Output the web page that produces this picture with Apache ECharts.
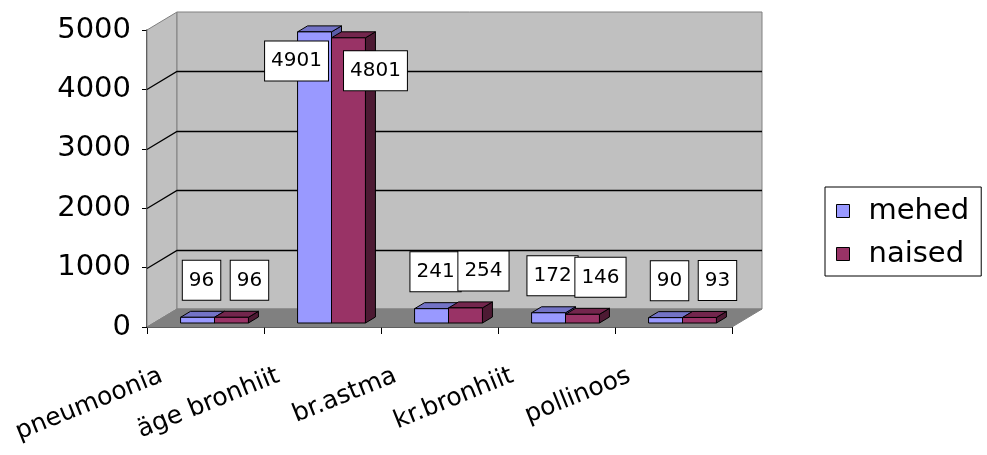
<!DOCTYPE html>
<html>
<head>
<meta charset="utf-8">
<script src="https://cdn.jsdelivr.net/npm/echarts@6/dist/echarts.min.js"></script>
<style>
html,body{margin:0;padding:0;background:#fff;}
#chart{width:987px;height:455px;}
</style>
</head>
<body>
<div id="chart"></div>
<script>
const categories = ['pneumoonia', 'äge bronhiit', 'br.astma', 'kr.bronhiit', 'pollinoos'];
const seriesNames = ['mehed', 'naised'];
const mehed = [96, 4901, 241, 172, 90];
const naised = [96, 4801, 254, 146, 93];
const yMin = 0, yMax = 5000, yStep = 1000;

const FONT = 'DejaVu Sans';
const DEPTH = [30, -18];      // wall depth
const BAR_OFF = [9, -4];      // bar front plane offset
const BAR_D = [10, -6];       // bar depth
const BAR_W = 0.29;           // bar width as fraction of category
const CAT_ROT = 22 * Math.PI / 180;
const CAT_OFF = [-44, 48];    // category label anchor offset from tick position

const palette = [
  {front: '#9999ff', top: '#7373c6', side: '#5c5ca8'},
  {front: '#993366', top: '#73264d', side: '#4d1a33'}
];

function wallRender(params, api) {
  const cs = params.coordSys;
  const x0 = cs.x, x1 = cs.x + cs.width;
  const yb = api.coord([0, yMin])[1];
  const yt = api.coord([0, yMax])[1];
  const dx = DEPTH[0], dy = DEPTH[1];
  const children = [];
  children.push({type: 'polygon', shape: {points: [[x0, yt], [x0 + dx, yt + dy], [x0 + dx, yb + dy], [x0, yb]]},
    style: {fill: '#c0c0c0', stroke: '#808080', lineWidth: 1}});
  children.push({type: 'polygon', shape: {points: [[x0 + dx, yt + dy], [x1 + dx, yt + dy], [x1 + dx, yb + dy], [x0 + dx, yb + dy]]},
    style: {fill: '#c0c0c0', stroke: '#808080', lineWidth: 1}});
  children.push({type: 'polygon', shape: {points: [[x0, yb], [x1, yb], [x1 + dx, yb + dy], [x0 + dx, yb + dy]]},
    style: {fill: '#808080', stroke: '#808080', lineWidth: 1}});
  for (let v = yMin + yStep; v < yMax; v += yStep) {
    const y = Math.round(api.coord([0, v])[1]) + 0.5;
    children.push({type: 'polyline', shape: {points: [[x0, y], [x0 + dx, y + dy], [x1 + dx, y + dy]]},
      style: {stroke: '#000', lineWidth: 1.3, fill: null}});
  }
  // rotated category labels
  categories.forEach(function (name, i) {
    const p = api.coord([i, yMin]);
    children.push({type: 'text', x: p[0] + CAT_OFF[0], y: p[1] + CAT_OFF[1], rotation: CAT_ROT,
      style: {text: name, fill: '#000', font: '25px "' + FONT + '"', align: 'right', verticalAlign: 'middle'}});
  });
  return {type: 'group', children: children};
}

function makeBarRender(s) {
  return function (params, api) {
    const ci = api.value(0), val = api.value(1);
    const base = api.coord([ci, 0]);
    const topP = api.coord([ci, val]);
    const bw = api.size([1, 0])[0] * BAR_W;
    const x0 = base[0] + BAR_OFF[0] + (s === 0 ? -bw : 0);
    const x1 = x0 + bw;
    const yb = base[1] + BAR_OFF[1];
    const yt = topP[1] + BAR_OFF[1];
    const dx = BAR_D[0], dy = BAR_D[1];
    const c = palette[s];
    const st = {stroke: '#000', lineWidth: 1, lineJoin: 'round'};
    const cx = (x0 + x1) / 2;
    let lx = cx + (s === 0 ? 4 : 18);
    let ly = yt - 37;
    if (ly < 45) {
      ly = yt + (s === 0 ? 29 : 33);
      lx = cx + (s === 0 ? -18 : 27);
    }
    return {
      type: 'group',
      children: [
        {type: 'polygon', shape: {points: [[x1, yt], [x1 + dx, yt + dy], [x1 + dx, yb + dy], [x1, yb]]},
          style: Object.assign({fill: c.side}, st)},
        {type: 'polygon', shape: {points: [[x0, yt], [x1, yt], [x1 + dx, yt + dy], [x0 + dx, yt + dy]]},
          style: Object.assign({fill: c.top}, st)},
        {type: 'rect', shape: {x: x0, y: yt, width: x1 - x0, height: yb - yt},
          style: Object.assign({fill: c.front}, st)},
        {type: 'text', x: lx, y: ly, z2: 100,
          style: {text: String(val), fill: '#000', font: '20px "' + FONT + '"', align: 'center', verticalAlign: 'middle',
            backgroundColor: '#fff', borderColor: '#000', borderWidth: 1, padding: [10, 6, 9, 6]}}
      ]
    };
  };
}

const chart = echarts.init(document.getElementById('chart'), null, {renderer: 'canvas'});
const toData = arr => arr.map((v, i) => [i, v]);

chart.setOption({
  animation: false,
  backgroundColor: '#fff',
  grid: {left: 147, top: 30, width: 585, height: 297, containLabel: false, outerBoundsMode: 'none'},
  legend: {
    orient: 'vertical', left: 825, top: 187,
    data: seriesNames,
    icon: 'rect', itemWidth: 13, itemHeight: 13, itemGap: 11,
    padding: [8, 12, 6, 11],
    borderColor: '#000', borderWidth: 1,
    itemStyle: {borderColor: '#000', borderWidth: 1},
    textStyle: {fontFamily: FONT, fontSize: 29, color: '#000', lineHeight: 32, padding: [0, 0, 0, 14]}
  },
  xAxis: {
    type: 'category', data: categories, boundaryGap: true,
    axisLine: {lineStyle: {color: '#000', width: 1.5}},
    axisTick: {show: true, length: 7, lineStyle: {color: '#000'}},
    axisLabel: {show: false},
    splitLine: {show: false}
  },
  yAxis: {
    type: 'value', min: yMin, max: yMax, interval: yStep,
    axisLine: {show: true, lineStyle: {color: '#000', width: 1.5}},
    axisTick: {show: true, length: 5, lineStyle: {color: '#000'}},
    axisLabel: {margin: 16, fontFamily: FONT, fontSize: 29, color: '#000', formatter: v => String(v)},
    splitLine: {show: false}
  },
  series: [
    {type: 'custom', name: '_wall', renderItem: wallRender, data: [[0, 0]], z: 1, silent: true, legendHoverLink: false},
    {type: 'custom', name: seriesNames[0], renderItem: makeBarRender(0), data: toData(mehed), z: 3,
      itemStyle: {color: palette[0].front}, encode: {x: 0, y: 1}},
    {type: 'custom', name: seriesNames[1], renderItem: makeBarRender(1), data: toData(naised), z: 4,
      itemStyle: {color: palette[1].front}, encode: {x: 0, y: 1}}
  ]
});
</script>
</body>
</html>
